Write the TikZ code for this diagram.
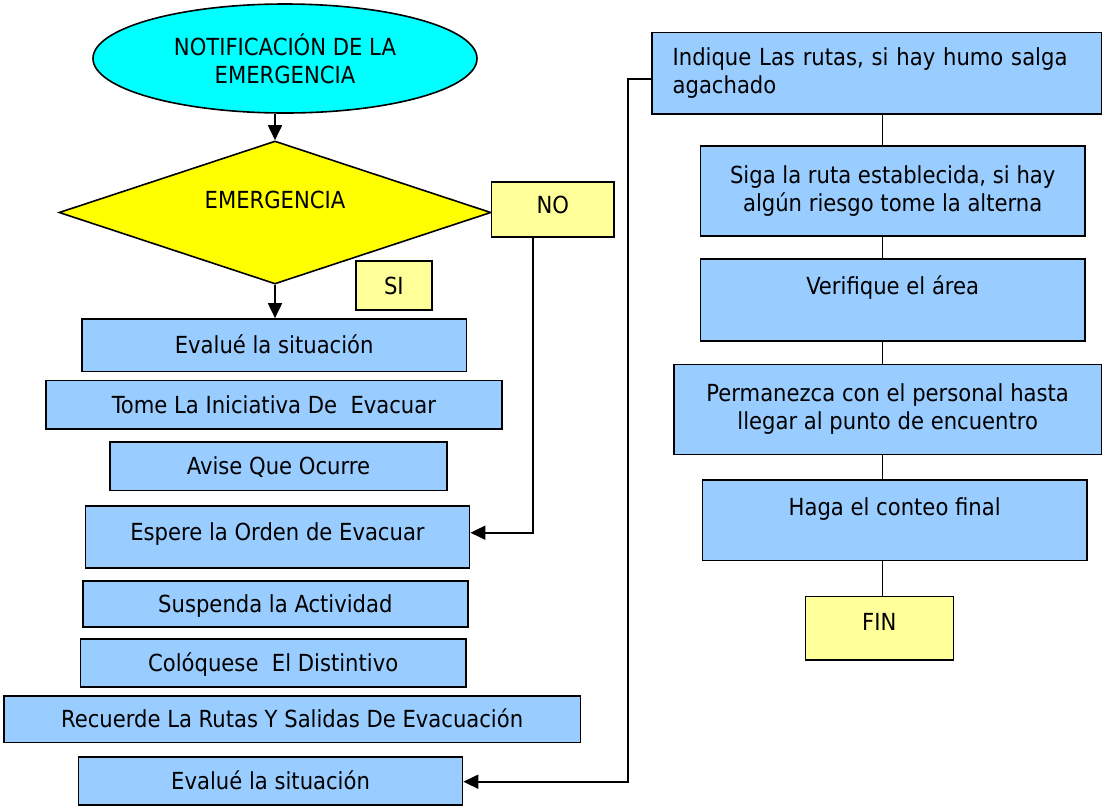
\documentclass[tikz,border=0pt]{standalone}
\usepackage{fontspec}
\setmainfont{DejaVu Sans Condensed}
\usetikzlibrary{arrows.meta,shapes.geometric}
\definecolor{boxblue}{HTML}{99CCFF}
\definecolor{lyellow}{HTML}{FFFF99}
\definecolor{dyellow}{HTML}{FFFF00}
\definecolor{ecyan}{HTML}{00FFFF}
\begin{document}
\begin{tikzpicture}[x=1pt,y=-1pt,
  every node/.style={font=\fontsize{23.5}{28.4}\selectfont, inner sep=0pt},
  bx/.style 2 args={rectangle, draw=black, line width=1.6pt, fill=boxblue, minimum width=#1, minimum height=#2},
  yb/.style 2 args={rectangle, draw=black, line width=1.6pt, fill=lyellow, minimum width=#1, minimum height=#2},
  one/.style={text height=17pt, text depth=#1},
  one/.default=0pt,
  conn/.style={line width=1.5pt},
  arr/.style={line width=1.8pt, -{Triangle[length=15pt,width=14pt]}}
]
\path[use as bounding box] (0,0) rectangle (1102,807);

% left column
\node[ellipse, draw=black, line width=1.6pt, fill=ecyan, minimum width=384, minimum height=109, align=center] (ell) at (285,58.5) {NOTIFICACIÓN DE LA\\EMERGENCIA};
\node[diamond, shape aspect=3, draw=black, line width=1.6pt, fill=dyellow, minimum width=432, minimum height=143, one=26pt] (dia) at (275,212.5) {EMERGENCIA};
\node[yb={122.4}{55}, one=9pt] (no) at (552.8,209.5) {NO};
\node[yb={76.3}{49}, one] (si) at (393.9,285.5) {SI};

\node[bx={384.8}{52.7}, one] (ev1) at (274.2,345.3) {Evalué la situación};
\node[bx={456.1}{48.3}, one] (tome) at (274,404.8) {Tome La Iniciativa De~ Evacuar};
\node[bx={337}{48.7}, one] (avise) at (278.5,466.3) {Avise Que Ocurre};
\node[bx={384.3}{62}, one=10pt] (esp) at (277.5,537) {Espere la Orden de Evacuar};
\node[bx={384.8}{46}, one] (susp) at (275.4,603.7) {Suspenda la Actividad};
\node[bx={385.1}{48}, one] (colo) at (273.2,662.7) {Colóquese~ El Distintivo};
\node[bx={576.5}{46.7}, one] (rec) at (292.2,719.3) {Recuerde La Rutas Y Salidas De Evacuación};
\node[bx={383.9}{48}, one] (ev2) at (270.6,781) {Evalué la situación};

% right column
\node[bx={449.7}{81.7}, align=left, text width=408.3pt, inner xsep=20.7pt] (ind) at (876.8,73.2) {\mbox{Indique Las rutas, si hay humo salga}\\agachado};
\node[bx={384.7}{90.3}, align=center] (siga) at (892.7,190.9) {Siga la ruta establecida, si hay\\algún riesgo tome la alterna};
\node[bx={384.7}{81.7}, one=28pt] (ver) at (892.7,299.9) {Verifique el área};
\node[bx={428}{90}, align=center] (perm) at (887.7,409.3) {Permanezca con el personal hasta\\llegar al punto de encuentro};
\node[bx={384.7}{80.3}, one=27pt] (haga) at (894.7,520.2) {Haga el conteo final};
\node[yb={148}{63.3}, one=12pt] (fin) at (879.3,628.3) {FIN};

% connectors
\draw[arr] (dia.north |- ell.south) -- (dia.north);
\draw[arr] (dia.south) -- (dia.south |- ev1.north);

\coordinate (nobend) at (533,532.7);
\draw[arr] (no.south -| nobend) -- (nobend) -- (nobend -| esp.east);

\coordinate (rx) at (882.7,0);
\draw[conn] (ind.south -| rx) -- (siga.north -| rx);
\draw[conn] (siga.south -| rx) -- (ver.north -| rx);
\draw[conn] (ver.south -| rx) -- (perm.north -| rx);
\draw[conn] (perm.south -| rx) -- (haga.north -| rx);
\draw[conn] (haga.south -| rx) -- (fin.north -| rx);

\coordinate (lt) at (628.3,79);
\coordinate (lb) at (628.3,781.7);
\draw[arr] (lt -| ind.west) -- (lt) -- (lb) -- (lb -| ev2.east);
\end{tikzpicture}
\end{document}
